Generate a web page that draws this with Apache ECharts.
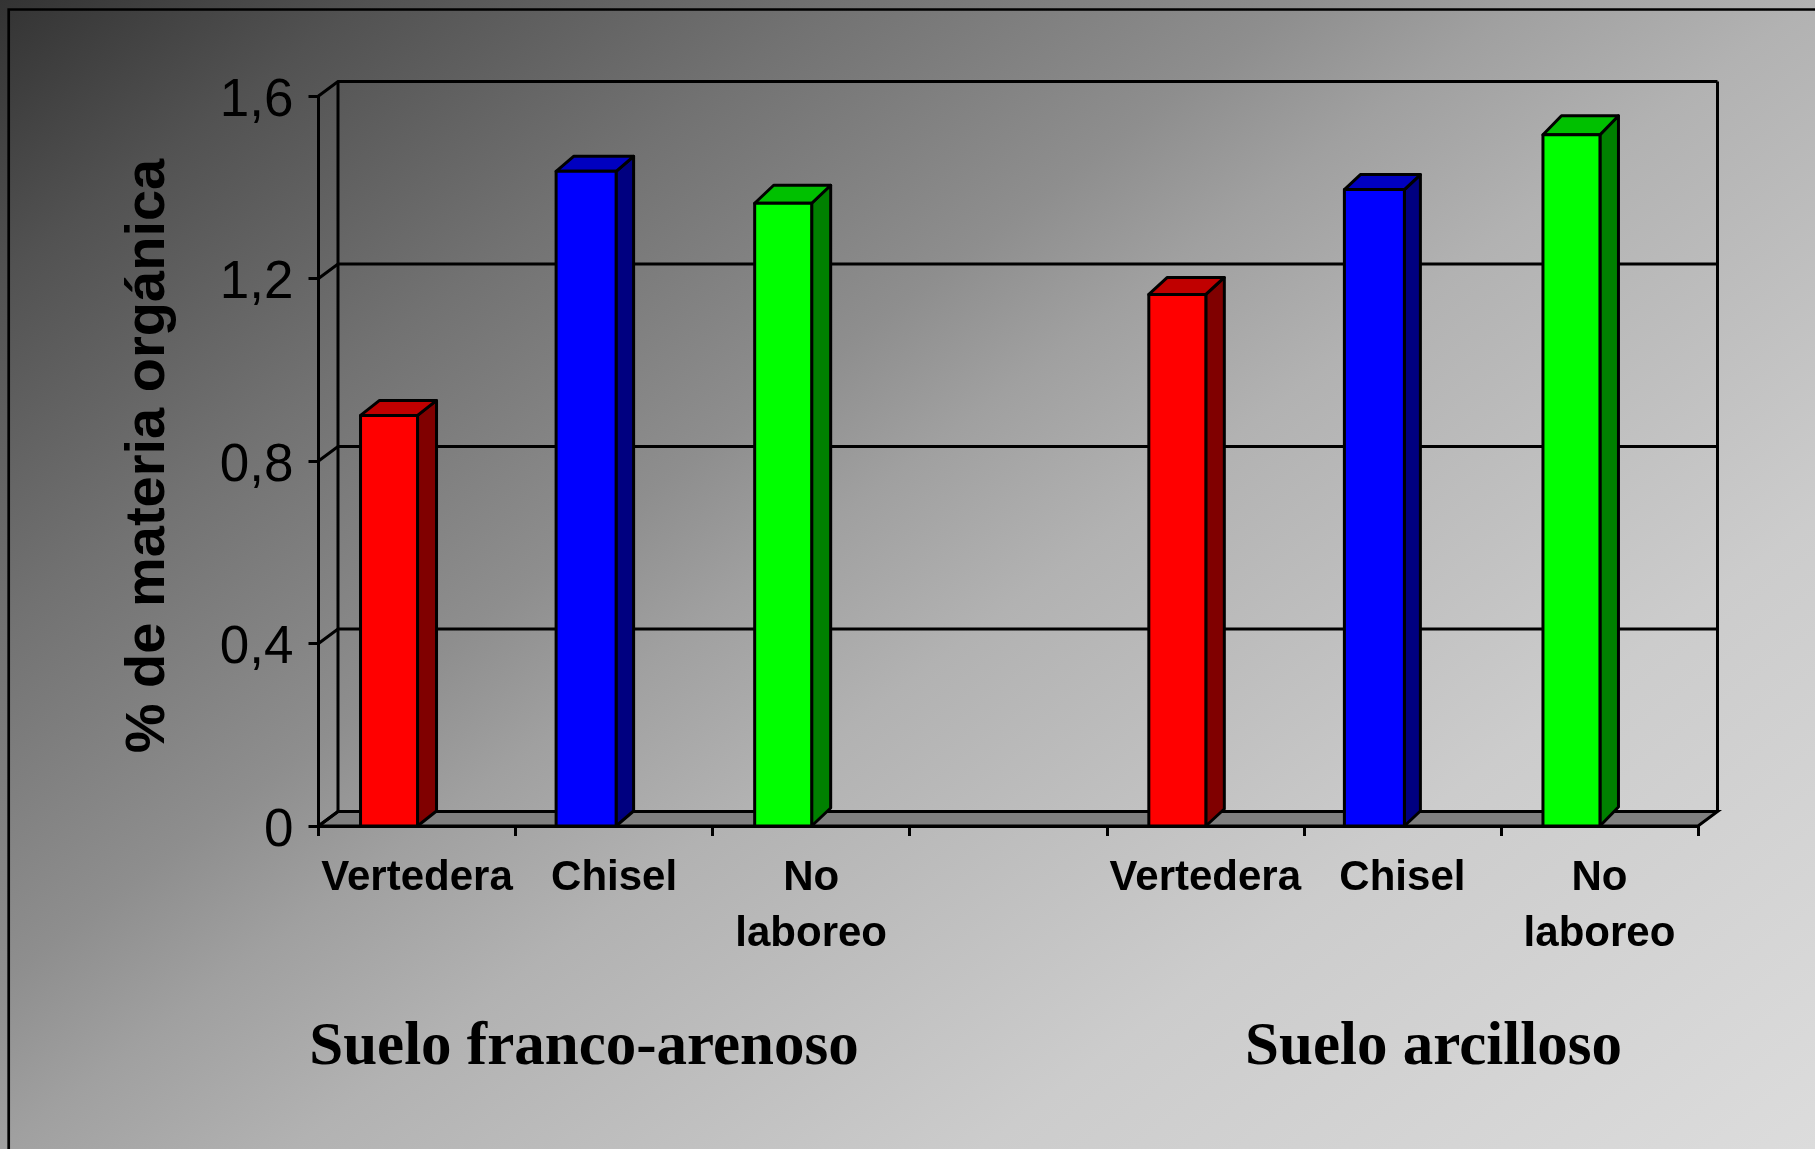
<!DOCTYPE html>
<html>
<head>
<meta charset="utf-8">
<style>html,body{margin:0;padding:0;background:#888}#c{width:1815px;height:1149px}</style>
<script src="https://cdn.jsdelivr.net/npm/echarts@6/dist/echarts.min.js"></script>
</head>
<body>
<div id="c"></div>
<script>
const categories = ['Vertedera', 'Chisel', 'No\nlaboreo', '', 'Vertedera', 'Chisel', 'No\nlaboreo'];
const values = [0.9, 1.435, 1.365, null, 1.165, 1.395, 1.515];
const yTicks = [0, 0.4, 0.8, 1.2, 1.6];
const yTitle = '% de materia orgánica';
const groupLabels = ['Suelo franco-arenoso', 'Suelo arcilloso'];
const groupCenters = [584, 1433.5];
const faceColors = ['#ff0000', '#0000ff', '#00ff00', null, '#ff0000', '#0000ff', '#00ff00'];
const topColors = ['#c00000', '#0000c0', '#00c000', null, '#c00000', '#0000c0', '#00c000'];
const sideColors = ['#800000', '#000080', '#008000', null, '#800000', '#000080', '#008000'];
const barWidths = [57, 60, 57, null, 57, 60, 57];
const barDepthX = [19, 17.5, 19, null, 18.5, 16, 18.5];
const barDepthY = [15, 15, 18, null, 17, 15, 19];

const DX = 19.5, DY = -14.5, BAR_SHIFT = -28, LW = 3;
const lineStyle = { stroke: '#000', lineWidth: LW, fill: null, lineJoin: 'miter' };

function renderWall(params, api) {
  const v = api.value(0);
  const cs = params.coordSys;
  const x0 = cs.x, x1 = cs.x + cs.width;
  const y = api.coord([0, v])[1];
  const children = [];
  if (v === 0) {
    children.push({ type: 'polygon', shape: { points: [[x0, y], [x0 + DX, y + DY], [x1 + DX, y + DY], [x1, y]] },
      style: { fill: '#808080', stroke: '#000', lineWidth: LW } });
    children.push({ type: 'polyline', shape: { points: [[x0 + DX, y + DY], [x0 + DX, cs.y + DY]] }, style: lineStyle });
    children.push({ type: 'polyline', shape: { points: [[x1 + DX, y + DY], [x1 + DX, cs.y + DY]] }, style: lineStyle });
  }
  children.push({ type: 'polyline', shape: { points: [[x0, y], [x0 + DX, y + DY], [x1 + DX, y + DY]] }, style: lineStyle });
  return { type: 'group', children };
}

function renderBar(params, api) {
  const i = api.value(0), v = api.value(1);
  if (v == null || isNaN(v)) return null;
  const top = api.coord([i, v]), base = api.coord([i, 0]);
  const w = barWidths[i], dx = barDepthX[i], dy = -barDepthY[i];
  const l = top[0] + BAR_SHIFT - w / 2, r = l + w;
  const t = top[1], b = base[1];
  const edge = { stroke: '#000', lineWidth: LW, lineJoin: 'round' };
  return { type: 'group', children: [
    { type: 'polygon', shape: { points: [[r, b], [r + dx, b + dy], [r + dx, t + dy], [r, t]] }, style: { fill: sideColors[i], ...edge } },
    { type: 'polygon', shape: { points: [[l, t], [l + dx, t + dy], [r + dx, t + dy], [r, t]] }, style: { fill: topColors[i], ...edge } },
    { type: 'polygon', shape: { points: [[l, b], [l, t], [r, t], [r, b]] }, style: { fill: faceColors[i], ...edge } }
  ] };
}

const W = 1815, H = 1149;
const bg = new echarts.graphic.LinearGradient(0, 0, 1210, 1605, [
  { offset: 0, color: '#333333' },
  { offset: 0.11, color: '#525252' },
  { offset: 0.25, color: '#727272' },
  { offset: 0.39, color: '#8e8e8e' },
  { offset: 0.4565, color: '#a0a0a0' },
  { offset: 0.5435, color: '#b2b2b2' },
  { offset: 0.75, color: '#cccccc' },
  { offset: 1, color: '#dcdcdc' }
], true);

const chart = echarts.init(document.getElementById('c'), null, { renderer: 'canvas' });
chart.setOption({
  animation: false,
  backgroundColor: bg,
  grid: { left: 318.5, right: 117, top: 96, height: 730, containLabel: false },
  xAxis: {
    type: 'category', data: categories,
    axisLine: { onZero: false, lineStyle: { color: '#000', width: LW } },
    axisTick: { show: true, interval: 0, length: 10, lineStyle: { color: '#000', width: LW } },
    axisLabel: { interval: 0, color: '#000', fontFamily: 'Liberation Sans', fontWeight: 'bold',
      fontSize: 42, lineHeight: 56, margin: 24, hideOverlap: false },
    z: 4
  },
  yAxis: {
    type: 'value', min: 0, max: 1.6, interval: 0.4,
    name: yTitle, nameLocation: 'middle', nameGap: 142, nameRotate: 90,
    nameTextStyle: { color: '#000', fontFamily: 'Liberation Sans', fontWeight: 'bold', fontSize: 56, padding: [0, 0, 0, 10] },
    axisLine: { show: true, lineStyle: { color: '#000', width: LW } },
    axisTick: { show: true, length: 10, lineStyle: { color: '#000', width: LW } },
    splitLine: { show: false },
    axisLabel: { color: '#000', fontFamily: 'Liberation Sans', fontSize: 53, margin: 25,
      verticalAlign: 'top', lineHeight: 10,
      formatter: v => String(v).replace('.', ',') },
    z: 4
  },
  graphic: [
    { type: 'polyline', silent: true, shape: { points: [[8.7, H], [8.7, 9.5], [W, 9.5]] },
      style: { stroke: '#000', lineWidth: 2.7, fill: null } },
    ...groupLabels.map((s, i) => ({
      type: 'text', x: groupCenters[i], y: 1048, silent: true,
      style: { text: s, fill: '#000', font: 'bold 61px "Liberation Serif"', textAlign: 'center', textVerticalAlign: 'middle' }
    }))
  ],
  series: [
    { type: 'custom', coordinateSystem: 'cartesian2d', renderItem: renderWall, clip: false, z: 1,
      encode: { y: 0 }, data: yTicks.map(v => [v]), silent: true },
    { type: 'custom', coordinateSystem: 'cartesian2d', renderItem: renderBar, clip: false, z: 5,
      encode: { x: 0, y: 1 }, data: values.map((v, i) => [i, v]), silent: true }
  ]
});
</script>
</body>
</html>
